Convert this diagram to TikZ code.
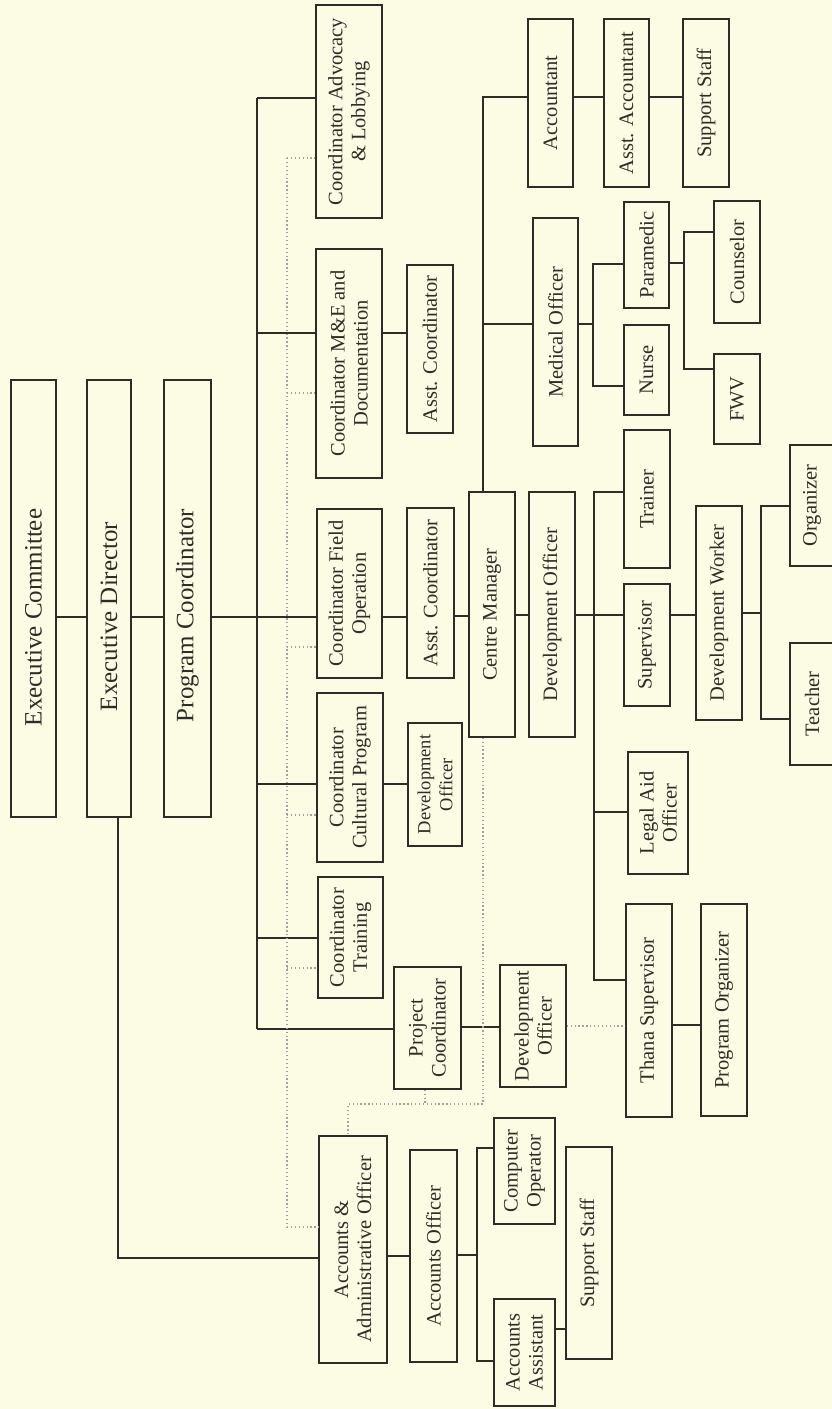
\documentclass[tikz,border=0pt]{standalone}
\usepackage{fontspec}
\setmainfont{Liberation Serif}
\definecolor{paper}{RGB}{252,252,228}
\definecolor{ink}{RGB}{45,45,40}

\begin{document}
\begin{tikzpicture}[x=1pt,y=-1pt,
  unit/.style={draw=ink,line width=1.5pt,rotate=90,inner sep=0pt,text=ink},
  post/.style={unit,align=center,font=\fontsize{20.5}{23}\selectfont},
  head/.style={unit,font=\fontsize{25}{28}\selectfont},
  link/.style={draw=ink,line width=1.5pt},
  dots/.style={draw=ink!45,line width=1.3pt,dash pattern=on 1.3pt off 2.6pt}]
\fill[paper] (0,0) rectangle (832,1409);
\clip (0,0) rectangle (832,1409);

\node[head,minimum width=437,minimum height=45] (excom) at (33.5,598.5) {Executive Committee\hspace*{38pt}};
\node[head,minimum width=437,minimum height=44] (exdir) at (109,598.5) {Executive Director\hspace*{36pt}};
\node[head,minimum width=437,minimum height=47] (progc) at (187.5,598.5) {Program Coordinator\hspace*{34pt}};

\node[post,minimum width=213,minimum height=66] (adv) at (349,111.5) {Coordinator Advocacy\\\& Lobbying};
\node[post,minimum width=229,minimum height=66] (mecd) at (349,363.5) {Coordinator M\&E and\\Documentation};
\node[post,minimum width=168,minimum height=46] (meac) at (430,349) {Asst. Coordinator};
\node[post,minimum width=169,minimum height=65] (fop) at (349.5,593.5) {Coordinator Field\\Operation};
\node[post,minimum width=170,minimum height=47] (foac) at (430.5,593) {Asst. Coordinator};
\node[post,minimum width=169,minimum height=66] (ccp) at (350,777.5) {Coordinator\\Cultural Program};
\node[post,minimum width=123,minimum height=54,font=\fontsize{18.5}{22}\selectfont] (ccpd) at (435,784.5) {Development\\Officer};
\node[post,minimum width=121,minimum height=65] (ctr) at (350.5,937.5) {Coordinator\\Training};
\node[post,minimum width=122,minimum height=67] (pjc) at (427.5,1028) {Project\\Coordinator};
\node[post,minimum width=122,minimum height=66] (pdev) at (533,1026) {Development\\Officer};

\node[post,minimum width=227,minimum height=68] (aao) at (353,1249.5) {Accounts \&\\Administrative Officer};
\node[post,minimum width=212,minimum height=47] (acco) at (433.5,1256) {Accounts Officer};
\node[post,minimum width=106,minimum height=61] (cop) at (524.5,1171) {Computer\\Operator};
\node[post,minimum width=107,minimum height=61] (aast) at (524.5,1352.5) {Accounts\\Assistant};
\node[post,minimum width=212,minimum height=46] (sstf) at (589,1253) {Support Staff};

\node[post,minimum width=245,minimum height=46] (cman) at (492,614.5) {Centre Manager};
\node[post,minimum width=245,minimum height=46] (devo) at (552,614.5) {Development Officer};
\node[post,minimum width=168,minimum height=45] (acct) at (550.5,103) {Accountant};
\node[post,minimum width=168,minimum height=45] (aacc) at (626.5,103) {Asst. Accountant};
\node[post,minimum width=168,minimum height=46] (supa) at (706,103) {Support Staff};
\node[post,minimum width=228,minimum height=45] (medo) at (555.5,332) {Medical Officer};
\node[post,minimum width=106,minimum height=45] (pmed) at (646.5,255) {Paramedic};
\node[post,minimum width=90,minimum height=45] (nurs) at (646.5,370) {Nurse};
\node[post,minimum width=122,minimum height=46] (coun) at (737,262) {Counselor};
\node[post,minimum width=90,minimum height=46] (fwv) at (737,399) {FWV};
\node[post,minimum width=138,minimum height=46] (trai) at (647,499) {Trainer};
\node[post,minimum width=122,minimum height=46] (supv) at (647,645) {Supervisor};
\node[post,minimum width=214,minimum height=46] (dwrk) at (719,613) {Development Worker};
\node[post,minimum width=121,minimum height=44] (orgz) at (812,505.5) {Organizer};
\node[post,minimum width=122,minimum height=44] (tchr) at (812,704) {Teacher};
\node[post,minimum width=122,minimum height=60] (lgl) at (658,813) {Legal Aid\\Officer};
\node[post,minimum width=213,minimum height=46] (than) at (649,1010.5) {Thana Supervisor};
\node[post,minimum width=212,minimum height=46] (porg) at (724,1010) {Program Organizer};

\coordinate (spine) at (257,617);
\coordinate (dline) at (287,617);
\coordinate (edrop) at (118,1258);
\coordinate (cmup) at (483,97);
\coordinate (medj) at (593,324);
\coordinate (pmj) at (684,263);
\coordinate (dvj) at (594,615);
\coordinate (dwj) at (761,613);
\coordinate (cmdn) at (483,1104);
\coordinate (aaoj) at (348,1104);
\coordinate (acj) at (477,1255);

\draw[link] (excom.south |- spine) -- (exdir.north |- spine);
\draw[link] (exdir.south |- spine) -- (progc.north |- spine);
\draw[link] (progc.south |- spine) -- (fop.north |- spine);
\draw[link] (spine |- 0,98) -- (spine |- 0,1029);
\foreach \n/\y in {adv/98,mecd/333,ccp/784,ctr/938,pjc/1029}
  \draw[link] (spine |- 0,\y) -- (\n.north |- 0,\y);
\draw[dots] (dline |- 0,158) -- (dline |- 0,1227);
\foreach \n/\y in {adv/158,mecd/393,fop/647,ccp/815,ctr/968,aao/1227}
  \draw[dots] (dline |- 0,\y) -- (\n.north |- 0,\y);
\draw[link] (edrop |- exdir.west) -- (edrop) -- (aao.north |- edrop);

\draw[link] (mecd.south |- 0,333) -- (meac.north |- 0,333);
\draw[link] (fop.south |- 0,617) -- (foac.north |- 0,617);
\draw[link] (foac.south |- 0,616) -- (cman.north |- 0,616);
\draw[link] (ccp.south |- 0,784) -- (ccpd.north |- 0,784);
\draw[link] (pjc.south |- 0,1027) -- (pdev.north |- 0,1027);

\draw[link] (cmup |- cman.east) -- (cmup) -- (acct.north |- cmup);
\draw[link] (cmup |- medj) -- (medo.north |- medj);
\draw[link] (acct.south |- cmup) -- (aacc.north |- cmup);
\draw[link] (aacc.south |- cmup) -- (supa.north |- cmup);
\draw[link] (medo.south |- medj) -- (medj);
\draw[link] (pmed.north |- 0,264) -- (medj |- 0,264) -- (medj |- 0,386) -- (nurs.north |- 0,386);
\draw[link] (pmed.south |- pmj) -- (pmj);
\draw[link] (coun.north |- 0,232) -- (pmj |- 0,232) -- (pmj |- 0,369) -- (fwv.north |- 0,369);

\draw[link] (cman.south |- dvj) -- (devo.north |- dvj);
\draw[link] (devo.south |- dvj) -- (supv.north |- dvj);
\draw[link] (trai.north |- 0,492) -- (dvj |- 0,492) -- (dvj |- 0,980) -- (than.north |- 0,980);
\draw[link] (dvj |- 0,812) -- (lgl.north |- 0,812);
\draw[link] (supv.south |- dvj) -- (dwrk.north |- dvj);
\draw[link] (dwrk.south |- dwj) -- (dwj);
\draw[link] (orgz.north |- 0,506) -- (dwj |- 0,506) -- (dwj |- 0,719) -- (tchr.north |- 0,719);
\draw[link] (than.south |- 0,1025) -- (porg.north |- 0,1025);
\draw[dots] (pdev.south |- 0,1026) -- (than.north |- 0,1026);

\draw[dots] (cmdn |- cman.west) -- (cmdn) -- (aaoj) -- (aaoj |- aao.east);
\draw[dots] (425,0 |- pjc.west) -- (425,1104);

\draw[link] (aao.south |- 0,1256) -- (acco.north |- 0,1256);
\draw[link] (acco.south |- acj) -- (acj);
\draw[link] (cop.north |- 0,1148) -- (acj |- 0,1148) -- (acj |- 0,1361) -- (aast.north |- 0,1361);
\draw[link] (aast.south |- 0,1329) -- (sstf.north |- 0,1329);
\end{tikzpicture}
\end{document}
